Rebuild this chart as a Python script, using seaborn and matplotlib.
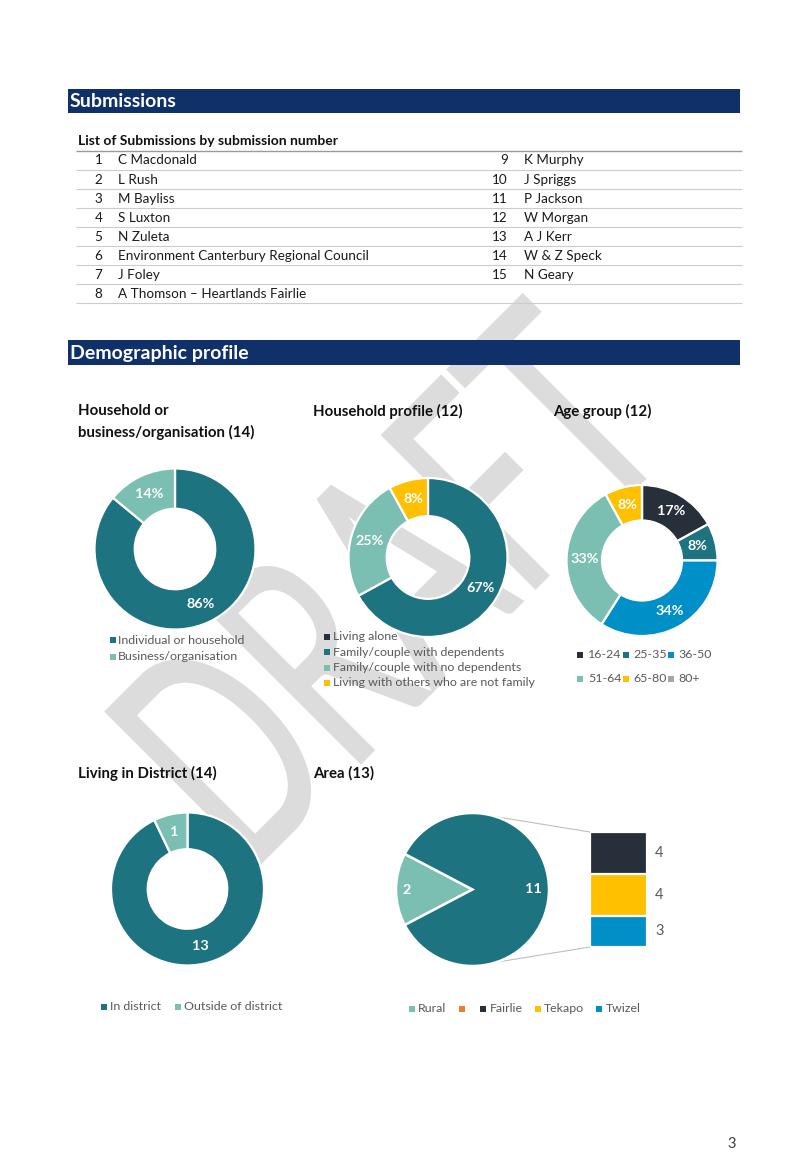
import numpy as np
import matplotlib
matplotlib.use("Agg")
import matplotlib.pyplot as plt
import seaborn as sns
from matplotlib.textpath import TextPath
from matplotlib.font_manager import FontProperties
from matplotlib.patches import PathPatch, Rectangle
from matplotlib.transforms import Affine2D

# ---------------- data ----------------
sub_nums_left = [1, 2, 3, 4, 5, 6, 7, 8]
sub_names_left = ["C Macdonald", "L Rush", "M Bayliss", "S Luxton", "N Zuleta",
                  "Environment Canterbury Regional Council", "J Foley",
                  "A Thomson \u2013 Heartlands Fairlie"]
sub_nums_right = [9, 10, 11, 12, 13, 14, 15]
sub_names_right = ["K Murphy", "J Spriggs", "P Jackson", "W Morgan", "A J Kerr",
                   "W & Z Speck", "N Geary"]

hh_cats = ["Individual or household", "Business/organisation"]
hh_pct = [86, 14]

prof_cats = ["Living alone", "Family/couple with dependents",
             "Family/couple with no dependents", "Living with others who are not family"]
prof_pct = [0, 67, 25, 8]

age_cats = ["16-24", "25-35", "36-50", "51-64", "65-80", "80+"]
age_pct = [17, 8, 34, 33, 8, 0]

dist_cats = ["In district", "Outside of district"]
dist_counts = [13, 1]

area_pie_cats = ["Rural", "Other"]
area_pie_counts = [2, 11]
area_bar_cats = ["Fairlie", "Tekapo", "Twizel"]
area_bar_counts = [4, 4, 3]

# ---------------- style ----------------
sns.set_theme(style="white")
plt.rcParams['font.family'] = ['Lato', 'DejaVu Sans']

TEAL = "#1e7380"
LTEAL = "#7bbfb2"
DARK = "#262f3a"
YEL = "#ffc000"
BLUE = "#008fc7"
GREY = "#a5a5a5"
ORANGE = "#ed7d31"
NAVY = "#10306a"
LEGTXT = "#595959"

W, H = 806, 1171
fig = plt.figure(figsize=(W / 100, H / 100), dpi=100)
fig.patch.set_facecolor("white")

bg = fig.add_axes([0, 0, 1, 1])
bg.set_xlim(0, W)
bg.set_ylim(H, 0)
bg.axis("off")
bg.autoscale(False)

# ---------------- watermark ----------------
fp = FontProperties(family="Lato", weight=400)
tp = TextPath((0, 0), "DRAFT", size=1, prop=fp)
ext = tp.get_extents()
sx = 590 / ext.width
sy = 217 / ext.height
tr = (Affine2D().translate(-ext.x0, -ext.y0).scale(sx, -sy)
      .rotate_deg(-45).translate(259, 865))
wm = PathPatch(tp, transform=tr + bg.transData, facecolor="#dcdcdc",
               edgecolor="#dcdcdc", linewidth=1.5, zorder=0)
bg.add_patch(wm)

# ---------------- section headers ----------------
def header(y0, y1, text):
    bg.add_patch(Rectangle((68, y0), 672, y1 - y0, facecolor=NAVY,
                           edgecolor="none", zorder=2))
    bg.text(70, (y0 + y1) / 2 + 0.5, text, color="white", fontsize=14,
            fontweight="bold", va="center", ha="left", zorder=3)

header(89, 113, "Submissions")
header(340, 365, "Demographic profile")

# ---------------- submissions table ----------------
bg.text(78, 141, "List of Submissions by submission number", fontsize=10,
        fontweight="bold", va="center", ha="left", color="#111111", zorder=3)
row_h = 19.05
for i in range(len(sub_nums_left) + 1):
    yl = 151 + i * row_h
    bg.plot([76, 742], [yl, yl], color="#9a9a9a" if i == 0 else "#cccccc",
            lw=1.0 if i == 0 else 0.8, zorder=2, solid_capstyle="butt")
for i, (n, nm) in enumerate(zip(sub_nums_left, sub_names_left)):
    y = 160.5 + i * row_h
    bg.text(102.5, y, str(n), ha="right", va="center", fontsize=9.7, color="#1a1a1a", zorder=3)
    bg.text(118, y, nm, ha="left", va="center", fontsize=9.7, color="#1a1a1a", zorder=3)
for i, (n, nm) in enumerate(zip(sub_nums_right, sub_names_right)):
    y = 160.5 + i * row_h
    bg.text(508, y, str(n), ha="right", va="center", fontsize=9.7, color="#1a1a1a", zorder=3)
    bg.text(524, y, nm, ha="left", va="center", fontsize=9.7, color="#1a1a1a", zorder=3)

# ---------------- chart titles ----------------
def title(x, y, s):
    bg.text(x, y, s, fontsize=10.8, fontweight="bold", ha="left", va="center",
            color="#111111", zorder=3)

title(78, 411, "Household or")
title(78, 432, "business/organisation (14)")
title(313, 411, "Household profile (12)")
title(553, 411, "Age group (12)")
title(78, 773, "Living in District (14)")
title(313, 773, "Area (13)")

# ---------------- legend helper ----------------
def leg(xm, xt, y, color, label):
    bg.scatter([xm], [y], marker="s", s=13, color=color, linewidths=0, zorder=3)
    if label:
        bg.text(xt, y, label, fontsize=8.9, color=LEGTXT, ha="left",
                va="center", zorder=3)

# ---------------- donut helper ----------------
def pie_axes(cx, cy, r):
    ax = fig.add_axes([(cx - r) / W, 1 - (cy + r) / H, 2 * r / W, 2 * r / H])
    ax.set_facecolor("none")
    return ax

def donut(cx, cy, r, values, colors, labels, width, lr=0.76):
    ax = pie_axes(cx, cy, r)
    wedges, _ = ax.pie(values, colors=colors, startangle=90, counterclock=False,
                       radius=1, wedgeprops=dict(width=width, edgecolor="white",
                                                 linewidth=1.6))
    for w, lab in zip(wedges, labels):
        if not lab:
            continue
        ang = np.deg2rad((w.theta1 + w.theta2) / 2)
        ax.text(lr * np.cos(ang), lr * np.sin(ang), lab, ha="center", va="center",
                color="white", fontsize=10.4, fontweight="bold")
    ax.set_xlim(-1, 1)
    ax.set_ylim(-1, 1)
    ax.axis("off")
    return ax

# Donut 1: household or business
donut(175, 549, 80.5, hh_pct, [TEAL, LTEAL],
      [f"{v}%" for v in hh_pct], width=0.5)
leg(113, 118, 640, TEAL, hh_cats[0])
leg(113, 118, 657, LTEAL, hh_cats[1])

# Donut 2: household profile
donut(428, 557.5, 79.5, prof_pct, [DARK, TEAL, LTEAL, YEL],
      [f"{v}%" if v else "" for v in prof_pct], width=0.48)
for cat, col, y in zip(prof_cats, [DARK, TEAL, LTEAL, YEL], [637, 652, 667.5, 683]):
    leg(327, 333, y, col, cat)

# Donut 3: age group
age_cols = [DARK, TEAL, BLUE, LTEAL, YEL, GREY]
donut(642, 560.5, 75.5, age_pct, age_cols,
      [f"{v}%" if v else "" for v in age_pct], width=0.47)
age_leg_pos = [(580, 588, 655), (626, 633, 655), (671, 678, 655),
               (580, 588, 679), (626, 633, 679), (671, 678, 679)]
for cat, col, (xm, xt, y) in zip(age_cats, age_cols, age_leg_pos):
    leg(xm, xt, y, col, cat)

# Donut 4: living in district
donut(187.5, 889, 76.5, dist_counts, [TEAL, LTEAL],
      [str(v) for v in dist_counts], width=0.48)
leg(104, 110, 1007, TEAL, dist_cats[0])
leg(178, 184, 1007, LTEAL, dist_cats[1])

# ---------------- Area: pie of pie ----------------
pcx, pcy, pr = 472.5, 889.5, 76.5
axp = pie_axes(pcx, pcy, pr)
rural_angle = area_pie_counts[0] / sum(area_pie_counts) * 360
wedges, _ = axp.pie(area_pie_counts, colors=[LTEAL, TEAL],
                    startangle=180 - rural_angle / 2, counterclock=True, radius=1,
                    wedgeprops=dict(edgecolor="white", linewidth=1.8))
for w, lab, lr in zip(wedges, [str(v) for v in area_pie_counts], [0.86, 0.79]):
    ang = np.deg2rad((w.theta1 + w.theta2) / 2)
    axp.text(lr * np.cos(ang), lr * np.sin(ang), lab, ha="center", va="center",
             color="white", fontsize=10.4, fontweight="bold")
axp.set_xlim(-1, 1)
axp.set_ylim(-1, 1)
axp.axis("off")

# stacked bar (secondary)
bx0, bx1, by0, by1 = 590, 647, 832, 947
axb = fig.add_axes([bx0 / W, 1 - by1 / H, (bx1 - bx0) / W, (by1 - by0) / H])
axb.set_facecolor("none")
bar_cols = [DARK, YEL, BLUE]
order = list(range(len(area_bar_counts)))[::-1]   # Twizel at bottom
cum = np.cumsum([area_bar_counts[i] for i in order])
bottoms = np.concatenate([[0], cum[:-1]])
for k in range(len(order) - 1, -1, -1):
    i = order[k]
    sns.barplot(x=["Area"], y=[cum[k]], color=bar_cols[i], width=1.0,
                edgecolor="white", linewidth=1.6, saturation=1, ax=axb)
for k, i in enumerate(order):
    axb.text(0.72, bottoms[k] + area_bar_counts[i] / 2, str(area_bar_counts[i]),
             ha="center", va="center", color=LEGTXT, fontsize=10.5, clip_on=False)
axb.set_xlim(-0.5, 0.5)
axb.set_ylim(0, sum(area_bar_counts))
axb.axis("off")

# connector lines
for sgn, by in [(1, by0), (-1, by1)]:
    a = np.deg2rad(sgn * 72)
    px, py = pcx + pr * np.cos(a), pcy - pr * np.sin(a)
    bg.plot([px, bx0], [py, by], color="#bfbfbf", lw=0.8, zorder=2)

area_leg = [(412, 418, LTEAL, "Rural"), (462, 0, ORANGE, ""),
            (483, 490, DARK, "Fairlie"), (538, 544, YEL, "Tekapo"),
            (599, 606, BLUE, "Twizel")]
for xm, xt, col, lab in area_leg:
    leg(xm, xt, 1008.5, col, lab)

# page number
bg.text(732, 1144, "3", fontsize=10.5, color="#404040", ha="center", va="center")

bg.set_xlim(0, W)
bg.set_ylim(H, 0)
fig.savefig("out.png", dpi=100, facecolor="white")
